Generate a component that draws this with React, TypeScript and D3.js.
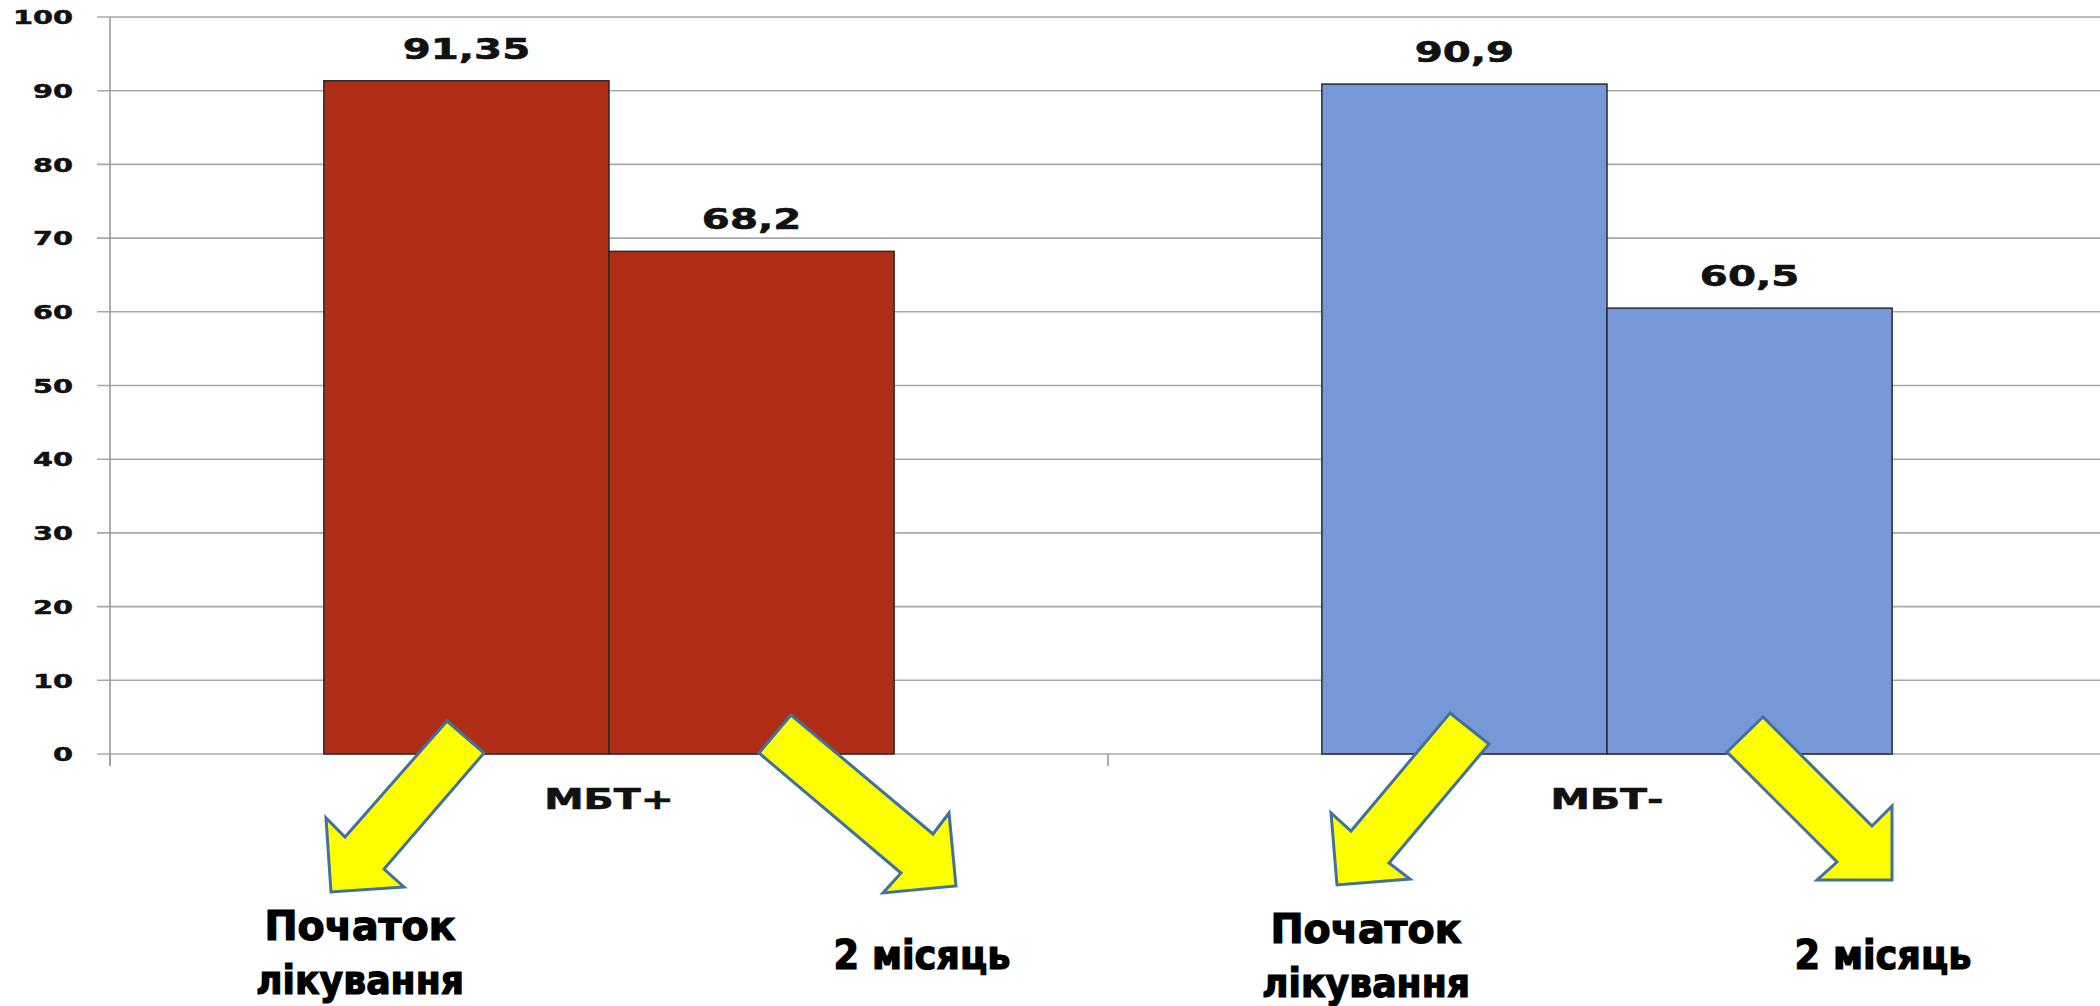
import React, { useEffect } from "react";
import * as d3 from "d3";

// chart data
const categories = ["МБТ+", "МБТ-"];
const seriesNames = ["Початок лікування", "2 місяць"];
const startValues = [91.35, 90.9];
const month2Values = [68.2, 60.5];
const yTicks = [0, 10, 20, 30, 40, 50, 60, 70, 80, 90, 100];

const W = 2100;
const H = 1006;
const left = 110;
const right = 2106;
const top = 17;
const bottom = 754;

const barColors = [
  ["#B02E18", "#B02E18"],
  ["#7698D9", "#7698D9"],
];

// annotation arrows (shape outlines, pixel space)
const arrows = [
  [[447, 721], [484, 753], [384, 869], [404, 887], [331, 892], [326, 818], [345, 837]],
  [[791, 715], [933, 834], [949, 813], [956, 886], [883, 893], [901, 873], [759, 753]],
  [[1450, 713], [1489, 744], [1389, 863], [1410, 879], [1337, 885], [1331, 813], [1351, 831]],
  [[1763, 717], [1872, 826], [1892, 806], [1892, 880], [1817, 880], [1837, 862], [1727, 752]],
];

// arrow captions: x centre, baseline of first line, series index
const captions = [
  { x: 360, y: 940, s: 0 },
  { x: 922, y: 969, s: 1 },
  { x: 1366, y: 943, s: 0 },
  { x: 1883, y: 969, s: 1 },
];

const SX = 1.44;
const chartFont = "'DejaVu Sans', Verdana, sans-serif";
const captionFont = "'Liberation Sans Narrow', 'DejaVu Sans Condensed', 'Noto Sans', sans-serif";

const fmt = (v: number) => String(v).replace(".", ",");

export default function App() {
  useEffect(() => {
    document.body.style.margin = "0";
    document.body.style.overflow = "hidden";
  }, []);

  const x0 = d3.scaleBand<string>().domain(categories).range([left, right]);
  const bw = x0.bandwidth();
  const barW = bw / 3.5;
  const x1 = d3
    .scaleBand<string>()
    .domain(seriesNames)
    .range([(bw - 2 * barW) / 2, (bw + 2 * barW) / 2]);
  const y = d3.scaleLinear().domain([0, 100]).range([bottom, top]);

  const series = [startValues, month2Values];

  const captionWidths: Record<string, number[]> = {
    "Початок лікування": [191, 208],
    "2 місяць": [177],
  };

  return (
    <svg width={W} height={H} style={{ display: "block", background: "#fff" }}>
      {/* gridlines */}
      {yTicks.map((t) => (
        <line key={t} x1={left - 13} x2={W} y1={y(t)} y2={y(t)} stroke="#A8A8A8" strokeWidth={1.6} />
      ))}
      {/* y axis */}
      <line x1={left} x2={left} y1={y(100)} y2={bottom + 12} stroke="#9A9A9A" strokeWidth={1.6} />
      {/* category ticks */}
      {[left, left + bw].map((xv, i) => (
        <line key={i} x1={xv} x2={xv} y1={bottom} y2={bottom + 12} stroke="#9A9A9A" strokeWidth={1.6} />
      ))}
      {/* y tick labels */}
      {yTicks.map((t) => (
        <text
          key={t}
          transform={`translate(73,${y(t)}) scale(${SX},1)`}
          textAnchor="end"
          dy="0.36em"
          fontFamily={chartFont}
          fontWeight="bold"
          fontSize={20}
          fill="#111"
          stroke="#111"
          strokeWidth={0.5}
        >
          {t}
        </text>
      ))}
      {/* bars */}
      {categories.map((c, ci) =>
        seriesNames.map((s, si) => {
          const v = series[si][ci];
          const bx = (x0(c) ?? 0) + (x1(s) ?? 0);
          return (
            <g key={c + s}>
              <rect
                x={bx}
                y={y(v)}
                width={x1.bandwidth()}
                height={bottom - y(v)}
                fill={barColors[ci][si]}
                stroke="#2A2A2A"
                strokeWidth={1.5}
              />
              <text
                transform={`translate(${bx + x1.bandwidth() / 2},${y(v) - 22}) scale(${SX},1)`}
                textAnchor="middle"
                fontFamily={chartFont}
                fontWeight="bold"
                fontSize={28}
                fill="#111"
                stroke="#111"
                strokeWidth={0.6}
              >
                {fmt(v)}
              </text>
            </g>
          );
        })
      )}
      {/* category labels */}
      {categories.map((c) => (
        <text
          key={c}
          transform={`translate(${(x0(c) ?? 0) + bw / 2},${bottom + 55}) scale(${SX},1)`}
          textAnchor="middle"
          fontFamily={chartFont}
          fontWeight="bold"
          fontSize={27.5}
          fill="#111"
          stroke="#111"
          strokeWidth={0.6}
        >
          {c}
        </text>
      ))}
      {/* arrows */}
      {arrows.map((pts, i) => (
        <polygon
          key={i}
          points={pts.map((p) => p.join(",")).join(" ")}
          fill="#FFFF00"
          stroke="#41719C"
          strokeWidth={3}
          strokeLinejoin="miter"
        />
      ))}
      {/* captions */}
      {captions.map((cap, i) => {
        const name = seriesNames[cap.s];
        const lines = cap.s === 0 ? ["Початок", "лікування"] : [name];
        return (
          <g key={i}>
            {lines.map((ln, li) => (
              <text
                key={li}
                x={cap.x}
                y={cap.y + li * 54}
                textAnchor="middle"
                fontFamily={captionFont}
                fontWeight="bold"
                fontSize={41}
                fill="#000"
                stroke="#000"
                strokeWidth={1.2}
                textLength={captionWidths[name][li]}
                lengthAdjust="spacingAndGlyphs"
              >
                {ln}
              </text>
            ))}
          </g>
        );
      })}
    </svg>
  );
}
